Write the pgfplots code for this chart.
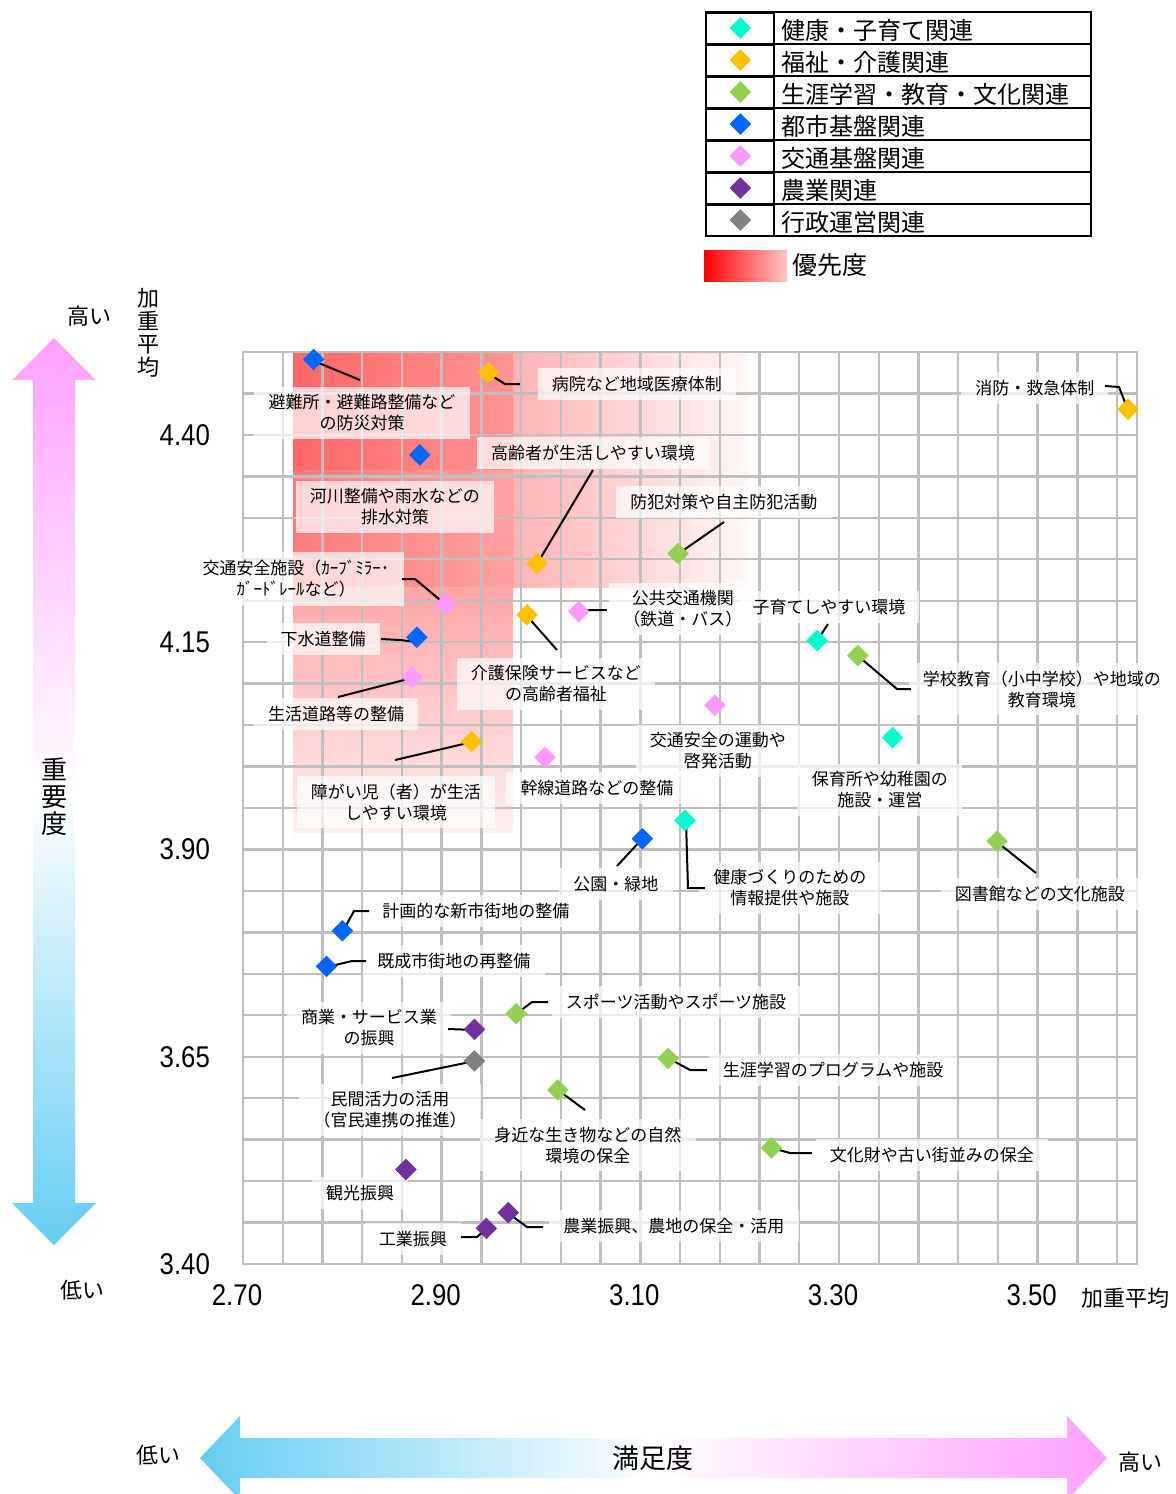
\documentclass[border=0pt]{standalone}
\usepackage{fontspec}
\usepackage{pgfplots}
\pgfplotsset{compat=1.18}
\setmainfont{Noto Sans CJK JP}
\newfontfamily\tickfont[FakeStretch=0.86]{Liberation Sans}
\definecolor{cHealth}{HTML}{00FFCC}
\definecolor{cWelf}{HTML}{FFC000}
\definecolor{cEdu}{HTML}{92D050}
\definecolor{cCity}{HTML}{0066FF}
\definecolor{cTrans}{HTML}{FF99FF}
\definecolor{cAgri}{HTML}{7030A0}
\definecolor{cAdmin}{HTML}{808080}
\definecolor{arPink}{RGB}{255,160,255}
\definecolor{arBlue}{RGB}{100,205,242}
\newcommand{\X}[1]{\fpeval{2.7+(#1-243)/993.333}}
\newcommand{\Y}[1]{\fpeval{3.4+(1264-#1)/829.091}}
\tikzset{lab/.style={font=\fontsize{8.5}{10.5}\selectfont, align=center, fill=white, fill opacity=0.7, text opacity=1, inner xsep=7pt, inner ysep=4pt},
  ld/.style={draw=black, line width=1pt}}
\begin{document}
\begin{tikzpicture}
\useasboundingbox (0,0) rectangle (588pt,-747pt);
\begin{scope}[x=0.5pt,y=-0.5pt]
% priority region
\shade[left color=red!30, right color=red!3] (513,352) rectangle (748,587);
\shade[left color=red!60, right color=red!42] (293,352) rectangle (513,470);
\shade[left color=red!52, right color=red!37] (293,470) rectangle (513,587);
\shade[top color=red!35, bottom color=red!6] (293,587) rectangle (513,832);
\end{scope}
\begin{axis}[
  at={(121.5pt,-632pt)}, anchor=south west,
  scale only axis, width=447pt, height=456pt,
  xmin=2.70, xmax=3.60, ymin=3.40, ymax=4.50,
  clip=false,
  xtick={2.7,2.9,3.1,3.3,3.5},
  xticklabels={2.70,2.90,3.10,3.30,3.50},
  ytick={3.4,3.65,3.9,4.15,4.4},
  yticklabels={3.40,3.65,3.90,4.15,4.40},
  minor xtick={2.74,2.78,2.82,2.86,2.94,2.98,3.02,3.06,3.14,3.18,3.22,3.26,3.34,3.38,3.42,3.46,3.54,3.58},
  minor ytick={3.45,3.5,3.55,3.6,3.7,3.75,3.8,3.85,3.95,4.0,4.05,4.1,4.2,4.25,4.3,4.35,4.45},
  grid=both,
  major grid style={draw=gray!50, line width=1.2pt},
  minor grid style={draw=gray!50, line width=1.2pt},
  axis line style={draw=gray!50, line width=1.2pt},
  major tick length=0pt, minor tick length=0pt,
  xticklabel style={font=\tickfont\fontsize{15}{15}\selectfont, yshift=-6.5pt, xshift=-3pt},
  yticklabel style={font=\tickfont\fontsize{15}{15}\selectfont, xshift=-13pt},
  legend style={at={(axis description cs:0.5179,1.3728)}, anchor=north west,
    draw=none, fill=none, inner sep=0pt, outer sep=0pt, row sep=0pt, column sep=3.5pt,
    font=\fontsize{12}{12}\selectfont,
    nodes={inner sep=0pt, text height=13.5pt, text depth=2.5pt},
    cells={anchor=west}},
  legend image code/.code={\path (0pt,-7.5pt) rectangle (34pt,7.5pt); \draw[#1] plot coordinates {(17pt,0pt)};},
  every axis plot/.append style={only marks, mark=square*, mark size=3.6pt},
]
% ---- labels ----
\node[lab] at (axis cs:\X{362},\Y{413}) {避難所・避難路整備など\\の防災対策};
\node[lab] at (axis cs:\X{637},\Y{384}) {病院など地域医療体制};
\node[lab] at (axis cs:\X{1035},\Y{388}) {消防・救急体制};
\node[lab] at (axis cs:\X{593},\Y{453}) {高齢者が生活しやすい環境};
\node[lab] at (axis cs:\X{395},\Y{507}) {河川整備や雨水などの\\排水対策};
\node[lab] at (axis cs:\X{724},\Y{502}) {防犯対策や自主防犯活動};
\node[lab] at (axis cs:\X{296},\Y{579}) {交通安全施設（ｶｰﾌﾞﾐﾗｰ･\\ｶﾞｰﾄﾞﾚｰﾙなど）};
\node[lab] at (axis cs:\X{683},\Y{609}) {公共交通機関\\（鉄道・バス）};
\node[lab] at (axis cs:\X{829},\Y{607}) {子育てしやすい環境};
\node[lab] at (axis cs:\X{323},\Y{639}) {下水道整備};
\node[lab] at (axis cs:\X{556},\Y{684}) {介護保険サービスなど\\の高齢者福祉};
\node[lab] at (axis cs:\X{1042},\Y{689}) {学校教育（小中学校）や地域の\\教育環境};
\node[lab] at (axis cs:\X{336},\Y{714}) {生活道路等の整備};
\node[lab] at (axis cs:\X{718},\Y{751}) {交通安全の運動や\\啓発活動};
\node[lab] at (axis cs:\X{396},\Y{802}) {障がい児（者）が生活\\しやすい環境};
\node[lab] at (axis cs:\X{597},\Y{788}) {幹線道路などの整備};
\node[lab] at (axis cs:\X{880},\Y{790}) {保育所や幼稚園の\\施設・運営};
\node[lab] at (axis cs:\X{616},\Y{884}) {公園・緑地};
\node[lab] at (axis cs:\X{790},\Y{888}) {健康づくりのための\\情報提供や施設};
\node[lab] at (axis cs:\X{1040},\Y{894}) {図書館などの文化施設};
\node[lab] at (axis cs:\X{476},\Y{911}) {計画的な新市街地の整備};
\node[lab] at (axis cs:\X{454},\Y{961}) {既成市街地の再整備};
\node[lab] at (axis cs:\X{676},\Y{1002}) {スポーツ活動やスポーツ施設};
\node[lab] at (axis cs:\X{369},\Y{1028}) {商業・サービス業\\の振興};
\node[lab] at (axis cs:\X{833},\Y{1070}) {生涯学習のプログラムや施設};
\node[lab] at (axis cs:\X{390},\Y{1110}) {民間活力の活用\\（官民連携の推進）};
\node[lab] at (axis cs:\X{588},\Y{1145}) {身近な生き物などの自然\\環境の保全};
\node[lab] at (axis cs:\X{932},\Y{1155}) {文化財や古い街並みの保全};
\node[lab] at (axis cs:\X{360},\Y{1193}) {観光振興};
\node[lab] at (axis cs:\X{674},\Y{1226}) {農業振興、農地の保全・活用};
\node[lab] at (axis cs:\X{413},\Y{1239}) {工業振興};
% ---- data ----
\addplot[mark options={rotate=45, draw=cHealth, fill=cHealth}] coordinates {
 (3.278,4.152) (3.354,4.035) (3.145,3.935)};
\addlegendentry{健康・子育て関連}
\addplot[mark options={rotate=45, draw=cWelf, fill=cWelf}] coordinates {
 (2.947,4.475) (3.591,4.431) (2.996,4.245) (2.986,4.183) (2.930,4.030)};
\addlegendentry{福祉・介護関連}
\addplot[mark options={rotate=45, draw=cEdu, fill=cEdu}] coordinates {
 (3.138,4.257) (3.319,4.134) (3.459,3.910) (2.975,3.702) (3.128,3.648) (3.017,3.610) (3.232,3.540)};
\addlegendentry{生涯学習・教育・文化関連}
\addplot[mark options={rotate=45, draw=cCity, fill=cCity}] coordinates {
 (2.771,4.491) (2.878,4.376) (2.875,4.156) (3.102,3.913) (2.800,3.802) (2.784,3.759)};
\addlegendentry{都市基盤関連}
\addplot[mark options={rotate=45, draw=cTrans, fill=cTrans}] coordinates {
 (2.904,4.196) (3.038,4.187) (2.870,4.108) (3.175,4.074) (3.004,4.011)};
\addlegendentry{交通基盤関連}
\addplot[mark options={rotate=45, draw=cAgri, fill=cAgri}] coordinates {
 (2.933,3.683) (2.864,3.514) (2.967,3.462) (2.945,3.443)};
\addlegendentry{農業関連}
\addplot[mark options={rotate=45, draw=cAdmin, fill=cAdmin}] coordinates {
 (2.933,3.645)};
\addlegendentry{行政運営関連}
% ---- leader lines ----
\draw[ld] (axis cs:\X{314},\Y{361}) -- (axis cs:\X{360},\Y{380});
\draw[ld] (axis cs:\X{489},\Y{374}) -- (axis cs:\X{505},\Y{384}) -- (axis cs:\X{520},\Y{384});
\draw[ld] (axis cs:\X{1105},\Y{386}) -- (axis cs:\X{1119},\Y{387}) -- (axis cs:\X{1128},\Y{410});
\draw[ld] (axis cs:\X{537},\Y{564}) -- (axis cs:\X{593},\Y{470});
\draw[ld] (axis cs:\X{678},\Y{554}) -- (axis cs:\X{724},\Y{522});
\draw[ld] (axis cs:\X{402},\Y{579}) -- (axis cs:\X{415},\Y{579}) -- (axis cs:\X{446},\Y{605});
\draw[ld] (axis cs:\X{579},\Y{612}) -- (axis cs:\X{590},\Y{610}) -- (axis cs:\X{607},\Y{610});
\draw[ld] (axis cs:\X{817},\Y{641}) -- (axis cs:\X{828},\Y{624});
\draw[ld] (axis cs:\X{381},\Y{639}) -- (axis cs:\X{400},\Y{640}) -- (axis cs:\X{417},\Y{642});
\draw[ld] (axis cs:\X{527},\Y{616}) -- (axis cs:\X{557},\Y{650});
\draw[ld] (axis cs:\X{858},\Y{656}) -- (axis cs:\X{897},\Y{689}) -- (axis cs:\X{911},\Y{689});
\draw[ld] (axis cs:\X{412},\Y{678}) -- (axis cs:\X{338},\Y{697});
\draw[ld] (axis cs:\X{472},\Y{742}) -- (axis cs:\X{395},\Y{760});
\draw[ld] (axis cs:\X{642},\Y{839}) -- (axis cs:\X{617},\Y{866});
\draw[ld] (axis cs:\X{686},\Y{821}) -- (axis cs:\X{688},\Y{888}) -- (axis cs:\X{705},\Y{888});
\draw[ld] (axis cs:\X{997},\Y{842}) -- (axis cs:\X{1036},\Y{873});
\draw[ld] (axis cs:\X{343},\Y{931}) -- (axis cs:\X{354},\Y{911}) -- (axis cs:\X{369},\Y{911});
\draw[ld] (axis cs:\X{327},\Y{967}) -- (axis cs:\X{352},\Y{961}) -- (axis cs:\X{366},\Y{961});
\draw[ld] (axis cs:\X{516},\Y{1014}) -- (axis cs:\X{532},\Y{1002}) -- (axis cs:\X{548},\Y{1002});
\draw[ld] (axis cs:\X{448},\Y{1029}) -- (axis cs:\X{475},\Y{1030});
\draw[ld] (axis cs:\X{668},\Y{1058}) -- (axis cs:\X{690},\Y{1070}) -- (axis cs:\X{707},\Y{1070});
\draw[ld] (axis cs:\X{475},\Y{1061}) -- (axis cs:\X{392},\Y{1078});
\draw[ld] (axis cs:\X{558},\Y{1090}) -- (axis cs:\X{585},\Y{1110});
\draw[ld] (axis cs:\X{772},\Y{1148}) -- (axis cs:\X{790},\Y{1153}) -- (axis cs:\X{812},\Y{1153});
\draw[ld] (axis cs:\X{508},\Y{1213}) -- (axis cs:\X{527},\Y{1227}) -- (axis cs:\X{543},\Y{1227});
\draw[ld] (axis cs:\X{461},\Y{1237}) -- (axis cs:\X{477},\Y{1237}) -- (axis cs:\X{487},\Y{1228});
\end{axis}
\begin{scope}[x=0.5pt,y=-0.5pt]
% legend table
\fill[white] (705,237) rectangle (776,246);
\draw[line width=1.2pt] (706,12) rectangle (1091,236);
\foreach \yy in {44,76,108,140,172,204} \draw[line width=1.2pt] (706,\yy) -- (1091,\yy);
\draw[line width=1.2pt] (774,12) -- (774,236);
\shade[left color=red, right color=red!22] (704,250) rectangle (787,281);
\node[anchor=west, font=\fontsize{12.5}{12.5}\selectfont, inner sep=0pt] at (792,265) {優先度};
% axis titles
\node[font=\fontsize{11}{11}\selectfont, inner sep=0pt] at (1125,1298) {加重平均};
\node[font=\fontsize{11}{11.5}\selectfont, align=center, inner sep=0pt] at (148,333) {加\\重\\平\\均};
\node[font=\fontsize{11}{11}\selectfont, inner sep=0pt] at (90,316) {高い};
\node[font=\fontsize{11}{11}\selectfont, inner sep=0pt] at (83,1290) {低い};
% vertical arrow
\shade[top color=arPink, bottom color=arBlue, middle color=white]
  (54,338) -- (96,380) -- (75,380) -- (75,1203) -- (96,1203) -- (54,1245) -- (12,1203) -- (33,1203) -- (33,380) -- (12,380) -- cycle;
\node[font=\fontsize{13}{13.5}\selectfont, align=center, inner sep=0pt] at (54,797) {重\\要\\度};
% horizontal arrow
\shade[left color=arBlue, right color=arPink, middle color=white]
  (200,1458) -- (240,1416) -- (240,1438) -- (1067,1438) -- (1067,1416) -- (1107,1458) -- (1067,1500) -- (1067,1478) -- (240,1478) -- (240,1500) -- cycle;
\node[font=\fontsize{13.5}{13.5}\selectfont, inner sep=0pt] at (653,1458) {満足度};
\node[font=\fontsize{11}{11}\selectfont, inner sep=0pt] at (158,1455) {低い};
\node[font=\fontsize{11}{11}\selectfont, inner sep=0pt] at (1140,1462) {高い};
\end{scope}
\end{tikzpicture}
\end{document}
